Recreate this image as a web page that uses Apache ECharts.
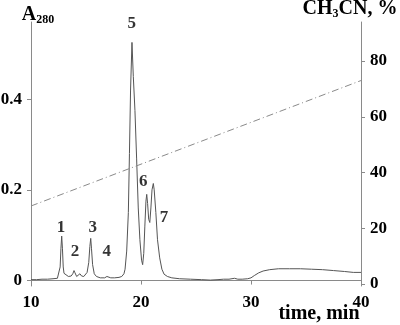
<!DOCTYPE html>
<html>
<head>
<meta charset="utf-8">
<script src="https://cdn.jsdelivr.net/npm/echarts@6/dist/echarts.min.js"></script>
<style>
  html, body { margin: 0; padding: 0; background: #fff; }
  #chart { width: 400px; height: 325px; }
</style>
</head>
<body>
<div id="chart"></div>
<script>
// chromatogram, A280 vs time (min)
const timeMin = [
  10.0, 10.5, 11.0, 11.5, 12.0, 12.4, 12.55, 12.65, 12.72, 12.79, 12.86, 12.93, 13.0, 13.15, 13.4,
  13.65, 13.8, 13.91, 14.0, 14.15, 14.3, 14.45, 14.6, 14.8, 14.95, 15.1, 15.25, 15.35, 15.43, 15.5,
  15.6, 15.75, 15.95, 16.3, 16.7, 16.9, 17.05, 17.25, 17.6, 18.0, 18.25, 18.45, 18.55, 18.7, 18.85,
  18.95, 19.05, 19.18, 19.3, 19.45, 19.6, 19.75, 19.9, 20.05, 20.15, 20.25, 20.35, 20.45, 20.52, 20.6,
  20.7, 20.8, 20.9, 21.0, 21.12, 21.2, 21.35, 21.5, 21.7, 21.9, 22.1, 22.4, 22.8, 23.5, 24.5,
  25.5, 26.3, 27.0, 27.5, 28.0, 28.5, 28.8, 29.2, 29.7, 30.0, 30.3, 30.7, 31.1, 31.7, 32.5,
  33.5, 34.5, 35.5, 36.5, 37.5, 38.5, 39.3, 40.0
];
const absorbance = [
  0.002, 0.002, 0.003, 0.003, 0.004, 0.005, 0.008, 0.03, 0.07, 0.098, 0.07, 0.03, 0.016, 0.012, 0.009,
  0.01, 0.015, 0.022, 0.017, 0.009, 0.01, 0.015, 0.01, 0.009, 0.011, 0.018, 0.04, 0.075, 0.093, 0.07,
  0.035, 0.015, 0.009, 0.006, 0.006, 0.009, 0.01, 0.006, 0.006, 0.007, 0.009, 0.015, 0.025, 0.065, 0.15,
  0.28, 0.42, 0.525, 0.45, 0.375, 0.27, 0.16, 0.09, 0.045, 0.035, 0.06, 0.12, 0.175, 0.19, 0.17,
  0.135, 0.128, 0.16, 0.2, 0.214, 0.2, 0.15, 0.09, 0.05, 0.025, 0.014, 0.009, 0.006, 0.004, 0.003,
  0.002, 0.001, 0.002, 0.003, 0.003, 0.005, 0.003, 0.003, 0.004, 0.006, 0.011, 0.017, 0.021, 0.024, 0.026,
  0.026, 0.026, 0.025, 0.024, 0.022, 0.02, 0.018, 0.018
];

// acetonitrile gradient, %
const gradientTime = [10, 40];
const gradientPct = [28, 73];

// peak numbers and where they sit (time, A280)
const peakNames = ['1', '2', '3', '4', '5', '6', '7'];
const peakLabelTime = [12.73, 14.0, 15.61, 16.88, 19.15, 20.21, 22.09];
const peakLabelA = [0.116, 0.064, 0.117, 0.064, 0.567, 0.219, 0.139];

const leftTicks = [0, 0.2, 0.4];
const rightTicks = [0, 20, 40, 60, 80];

const chart = echarts.init(document.getElementById('chart'));

const font = '"Liberation Serif", "Times New Roman", serif';
const axisGray = '#8a8a8a';
const labelStyle = { color: '#000', fontFamily: font, fontWeight: 'bold', fontSize: 17 };

chart.setOption({
  animation: false,
  backgroundColor: '#fff',
  grid: { left: 31, right: 39, top: 22, bottom: 39, outerBoundsMode: 'none', containLabel: false },
  xAxis: {
    type: 'value',
    min: 10,
    max: 40,
    interval: 10,
    name: 'time, min',
    nameLocation: 'middle',
    nameGap: 18,
    nameMoveOverlap: false,
    nameTextStyle: {
      color: '#000', fontFamily: font, fontWeight: 'bold', fontSize: 20,
      padding: [0, 0, 0, 246]
    },
    splitLine: { show: false },
    axisLine: { lineStyle: { color: axisGray, width: 1 } },
    axisTick: { length: 4, lineStyle: { color: axisGray } },
    axisLabel: Object.assign({ margin: 8 }, labelStyle)
  },
  yAxis: [
    {
      type: 'value',
      min: -0.012,
      max: 0.57,
      name: '{a|A}{s|280}',
      nameLocation: 'end',
      nameGap: -4,
      nameMoveOverlap: false,
      nameTextStyle: {
        align: 'center',
        padding: [0, 0, 0, 14],
        rich: {
          a: { color: '#000', fontFamily: font, fontWeight: 'bold', fontSize: 20 },
          s: { color: '#000', fontFamily: font, fontWeight: 'bold', fontSize: 12, padding: [10, 0, 0, 0] }
        }
      },
      splitLine: { show: false },
      axisLine: { show: true, lineStyle: { color: axisGray, width: 1 } },
      axisTick: { show: true, length: 4, customValues: leftTicks, lineStyle: { color: axisGray } },
      axisLabel: Object.assign({ margin: 9, customValues: leftTicks, formatter: v => (v === 0 ? '0' : v.toFixed(1)) }, labelStyle)
    },
    {
      type: 'value',
      min: -0.7,
      max: 94,
      position: 'right',
      name: '{a|CH}{s|3}{a|CN, %}',
      nameLocation: 'end',
      nameGap: 2,
      nameTextStyle: {
        align: 'center',
        padding: [0, 22, 0, 0],
        rich: {
          a: { color: '#000', fontFamily: font, fontWeight: 'bold', fontSize: 20 },
          s: { color: '#000', fontFamily: font, fontWeight: 'bold', fontSize: 12, padding: [10, 0, 0, 0] }
        }
      },
      splitLine: { show: false },
      axisLine: { show: true, lineStyle: { color: axisGray, width: 1 } },
      axisTick: { show: true, length: 4, customValues: rightTicks, lineStyle: { color: axisGray } },
      axisLabel: Object.assign({ margin: 9, customValues: rightTicks }, labelStyle)
    }
  ],
  series: [
    {
      name: 'A280',
      type: 'line',
      data: timeMin.map((t, i) => [t, absorbance[i]]),
      symbol: 'none',
      lineStyle: { color: '#555', width: 1 }
    },
    {
      name: 'CH3CN',
      type: 'line',
      yAxisIndex: 1,
      data: gradientTime.map((t, i) => [t, gradientPct[i]]),
      symbol: 'none',
      lineStyle: { color: '#8a8a8a', width: 1, type: [7, 3, 1, 3] }
    },
    {
      name: 'peaks',
      type: 'scatter',
      data: peakNames.map((n, i) => ({ value: [peakLabelTime[i], peakLabelA[i]], name: n })),
      symbolSize: 0,
      label: Object.assign({ show: true, position: 'inside', formatter: p => p.name }, labelStyle)
    }
  ]
});
</script>
</body>
</html>
